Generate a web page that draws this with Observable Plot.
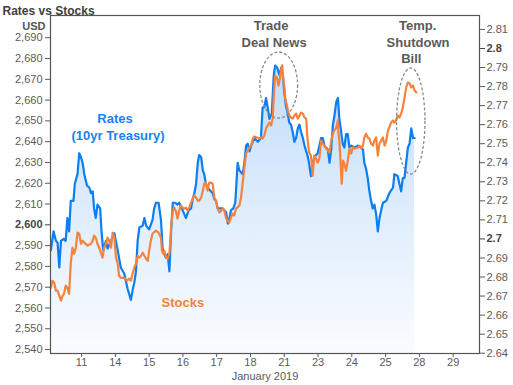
<!DOCTYPE html>
<html><head><meta charset="utf-8">
<script src="https://cdn.jsdelivr.net/npm/d3@7"></script>
<script src="https://cdn.jsdelivr.net/npm/@observablehq/plot@0.6"></script>
<style>body{margin:0;background:#fff;}#chart svg{display:block;}</style>
</head><body><div id="chart"></div>
<script>
// ---- data ----
const dayLabels = ["11","14","15","16","17","18","21","23","24","25","28","29"];
const stockTicks = [2540,2550,2560,2570,2580,2590,2600,2610,2620,2630,2640,2650,2660,2670,2680,2690];
const boldStockTicks = [2600];
const rateTicks = [2.64,2.65,2.66,2.67,2.68,2.69,2.70,2.71,2.72,2.73,2.74,2.75,2.76,2.77,2.78,2.79,2.80,2.81];
const boldRateTicks = [2.70,2.80];

// Rates (10yr Treasury), x = trading-day position (0 = Jan 11)
const rateX = [-0.91,-0.83,-0.76,-0.71,-0.66,-0.61,-0.53,-0.47,-0.42,-0.37,
-0.32,-0.24,-0.20,-0.12,-0.07,-0.02,0.03,0.08,0.16,0.23,
0.28,0.33,0.37,0.42,0.47,0.55,0.59,0.64,0.72,0.77,
0.87,0.97,1.07,1.16,1.26,1.31,1.36,1.41,1.46,1.51,
1.56,1.61,1.66,1.71,1.81,1.86,1.91,2.00,2.10,2.15,
2.20,2.28,2.35,2.40,2.45,2.50,2.55,2.60,2.65,2.70,
2.77,2.84,2.89,2.97,3.04,3.09,3.17,3.24,3.29,3.34,
3.39,3.44,3.48,3.54,3.59,3.63,3.68,3.73,3.78,3.83,
3.88,3.93,3.98,4.03,4.08,4.13,4.18,4.28,4.33,4.37,
4.42,4.49,4.55,4.59,4.62,4.67,4.72,4.77,4.82,4.87,
4.92,4.97,5.02,5.11,5.22,5.31,5.36,5.41,5.46,5.51,
5.56,5.63,5.69,5.73,5.79,5.86,5.91,5.96,6.00,6.05,
6.10,6.15,6.20,6.25,6.30,6.35,6.40,6.45,6.50,6.55,
6.60,6.70,6.74,6.79,6.84,6.89,6.99,7.09,7.14,7.19,
7.29,7.34,7.39,7.44,7.48,7.54,7.59,7.63,7.68,7.73,
7.78,7.83,7.88,7.93,7.98,8.08,8.18,8.28,8.33,8.37,
8.42,8.47,8.52,8.57,8.62,8.67,8.72,8.77,8.82,8.87,
8.92,9.02,9.11,9.22,9.26,9.36,9.41,9.46,9.51,9.56,
9.61,9.66,9.71,9.76,9.81,9.86];
const rateV = [2.694,2.704,2.699,2.698,2.685,2.699,2.700,2.699,2.711,2.704,
2.720,2.720,2.729,2.734,2.745,2.743,2.740,2.734,2.728,2.727,
2.724,2.725,2.716,2.711,2.718,2.716,2.704,2.694,2.699,2.695,
2.699,2.703,2.694,2.685,2.682,2.678,2.674,2.671,2.668,2.673,
2.677,2.683,2.699,2.706,2.707,2.711,2.707,2.705,2.710,2.716,
2.719,2.719,2.710,2.695,2.692,2.690,2.692,2.683,2.704,2.719,
2.719,2.718,2.719,2.716,2.713,2.711,2.715,2.716,2.721,2.724,
2.729,2.740,2.744,2.743,2.736,2.734,2.729,2.727,2.726,2.725,
2.724,2.721,2.720,2.716,2.716,2.716,2.716,2.714,2.708,2.710,
2.715,2.716,2.719,2.731,2.740,2.736,2.735,2.734,2.740,2.749,
2.750,2.746,2.749,2.753,2.751,2.753,2.769,2.769,2.774,2.769,
2.763,2.766,2.786,2.791,2.790,2.786,2.790,2.786,2.777,2.770,
2.766,2.761,2.760,2.756,2.751,2.753,2.758,2.760,2.756,2.753,
2.749,2.743,2.739,2.733,2.740,2.743,2.745,2.753,2.753,2.749,
2.747,2.740,2.747,2.760,2.764,2.772,2.774,2.763,2.757,2.750,
2.748,2.755,2.755,2.748,2.749,2.748,2.749,2.748,2.747,2.740,
2.737,2.732,2.725,2.720,2.716,2.718,2.713,2.704,2.711,2.715,
2.719,2.720,2.724,2.727,2.734,2.733,2.729,2.725,2.732,2.732,
2.740,2.748,2.750,2.758,2.753,2.753];

// Stocks (USD)
const stockX = [-0.91,-0.86,-0.81,-0.76,-0.71,-0.66,-0.61,-0.56,-0.52,-0.47,
-0.42,-0.37,-0.32,-0.27,-0.22,-0.17,-0.12,-0.07,-0.02,0.03,
0.08,0.18,0.28,0.33,0.37,0.42,0.47,0.52,0.57,0.62,
0.67,0.72,0.77,0.82,0.87,0.92,0.97,1.02,1.07,1.11,
1.16,1.26,1.34,1.41,1.46,1.51,1.56,1.61,1.66,1.71,
1.76,1.81,1.86,1.91,1.96,2.00,2.05,2.10,2.20,2.28,
2.35,2.38,2.42,2.45,2.50,2.55,2.60,2.65,2.70,2.74,
2.79,2.84,2.89,2.94,2.99,3.04,3.09,3.14,3.19,3.24,
3.29,3.34,3.39,3.44,3.48,3.54,3.59,3.63,3.68,3.73,
3.78,3.83,3.88,3.93,3.98,4.03,4.08,4.13,4.18,4.23,
4.28,4.33,4.37,4.42,4.47,4.52,4.57,4.67,4.72,4.77,
4.82,4.87,4.92,4.97,5.02,5.07,5.11,5.19,5.26,5.31,
5.36,5.41,5.46,5.51,5.56,5.61,5.66,5.69,5.73,5.79,
5.83,5.87,5.91,5.94,5.96,6.00,6.03,6.08,6.12,6.15,
6.20,6.25,6.30,6.35,6.40,6.45,6.50,6.55,6.60,6.65,
6.68,6.71,6.74,6.79,6.84,6.89,6.94,6.99,7.04,7.09,
7.14,7.19,7.24,7.29,7.34,7.39,7.44,7.48,7.54,7.59,
7.60,7.63,7.66,7.70,7.74,7.78,7.83,7.88,7.93,7.98,
8.03,8.08,8.18,8.23,8.28,8.33,8.37,8.42,8.47,8.52,
8.57,8.62,8.67,8.72,8.77,8.82,8.87,8.92,8.97,9.02,
9.07,9.11,9.16,9.22,9.26,9.31,9.36,9.41,9.46,9.51,
9.56,9.61,9.66,9.71,9.76,9.81,9.86,9.91];
const stockV = [2569.7,2573.1,2572.1,2568.3,2568.3,2565.9,2563.5,2565.9,2566.8,2570.7,
2569.7,2566.8,2581.3,2589.0,2586.1,2589.0,2596.2,2595.7,2590.9,2592.4,
2591.4,2590.0,2590.9,2592.4,2594.8,2593.8,2590.9,2589.0,2586.6,2584.2,
2589.0,2590.9,2593.8,2592.4,2589.0,2596.2,2593.8,2584.2,2581.3,2575.5,
2574.5,2574.5,2573.1,2574.1,2573.1,2576.5,2579.4,2581.3,2585.1,2584.2,
2585.1,2586.6,2585.1,2583.7,2582.7,2587.5,2592.4,2595.7,2597.2,2596.2,
2593.8,2587.5,2586.1,2587.5,2584.2,2583.7,2586.1,2598.6,2606.8,2608.3,
2606.8,2603.0,2606.8,2609.2,2608.3,2607.8,2608.3,2606.8,2608.3,2610.7,
2612.6,2614.0,2613.1,2611.6,2611.6,2613.1,2616.4,2619.8,2620.3,2616.4,
2620.3,2620.3,2619.8,2613.1,2611.6,2607.8,2605.9,2606.8,2607.8,2606.8,
2603.0,2602.0,2601.0,2603.4,2605.4,2604.4,2607.8,2609.2,2613.1,2620.3,
2627.5,2634.3,2635.7,2637.2,2638.1,2641.5,2642.5,2642.0,2641.5,2642.0,
2641.5,2642.9,2646.3,2647.8,2649.2,2647.8,2651.1,2662.2,2671.8,2670.4,
2667.0,2670.4,2675.2,2676.7,2671.8,2667.0,2660.8,2657.4,2654.0,2652.6,
2651.6,2651.1,2652.6,2653.5,2651.1,2652.6,2654.0,2653.5,2651.6,2651.1,
2642.9,2638.1,2634.7,2633.3,2623.7,2633.3,2631.9,2629.9,2631.9,2640.5,
2639.1,2638.1,2636.7,2635.7,2634.7,2640.5,2643.9,2645.3,2646.8,2650.2,
2645.3,2640.5,2632.3,2619.8,2630.9,2629.4,2626.0,2630.9,2636.7,2634.3,
2637.2,2636.7,2637.2,2638.1,2636.7,2638.1,2642.0,2643.9,2642.0,2641.5,
2639.1,2638.1,2640.5,2642.0,2633.3,2639.1,2640.5,2642.0,2638.1,2640.5,
2645.3,2646.8,2649.2,2650.2,2649.2,2650.2,2652.6,2651.6,2653.5,2656.4,
2661.2,2666.1,2668.5,2668.0,2666.1,2667.0,2664.6,2663.7];

// annotation ellipses (center x, center stock value, radii in data units)
const ellX = [5.85, 9.76];
const ellY = [2667.0, 2649.7];
const ellRX = [0.56, 0.42];
const ellRY = [15.9, 25.5];

// ---- scale helpers: map rate axis onto the USD axis ----
const yDomain = [2538.1, 2700.7];
const toS = r => 2690 - ((29 + (2.81 - r) * 1902) - 37.3) / 2.076;
const fromS = s => 2.81 - ((37.3 + (2690 - s) * 2.076) - 29) / 1902;
const fmtRate = s => String(+fromS(s).toFixed(2));

const nR = Math.min(rateX.length, rateV.length);
const rates = d3.range(nR).map(i => ({x: rateX[i], y: toS(rateV[i])}));
const nS = Math.min(stockX.length, stockV.length);
const stocks = d3.range(nS).map(i => ({x: stockX[i], y: stockV[i]}));

const ns = "http://www.w3.org/2000/svg";
function gradientDefs(index, scales, values, dims) {
  const defs = document.createElementNS(ns, "defs");
  const g = document.createElementNS(ns, "linearGradient");
  g.setAttribute("id", "rateGrad");
  g.setAttribute("gradientUnits", "userSpaceOnUse");
  g.setAttribute("x1", 0); g.setAttribute("x2", 0);
  g.setAttribute("y1", dims.marginTop);
  g.setAttribute("y2", dims.height - dims.marginBottom);
  [["0", "#b9d8f8"], ["1", "#fafcff"]].forEach(([o, c]) => {
    const s = document.createElementNS(ns, "stop");
    s.setAttribute("offset", o); s.setAttribute("stop-color", c);
    g.appendChild(s);
  });
  defs.appendChild(g);
  return defs;
}
function ellipses(index, scales) {
  const g = document.createElementNS(ns, "g");
  for (let k = 0; k < ellX.length; k++) {
    const cx = scales.x(ellX[k]), cy = scales.y(ellY[k]);
    const rx = Math.abs(scales.x(ellX[k] + ellRX[k]) - cx);
    const ry = Math.abs(scales.y(ellY[k] + ellRY[k]) - cy);
    const e = document.createElementNS(ns, "ellipse");
    e.setAttribute("cx", cx); e.setAttribute("cy", cy);
    e.setAttribute("rx", rx); e.setAttribute("ry", ry);
    e.setAttribute("fill", "none");
    e.setAttribute("stroke", "#8a8a8a");
    e.setAttribute("stroke-width", 1.3);
    e.setAttribute("stroke-dasharray", "3,2");
    g.appendChild(e);
  }
  return g;
}

const regStock = stockTicks.filter(t => !boldStockTicks.includes(t));
const regRate = rateTicks.filter(t => !boldRateTicks.includes(t));
const dayIdx = dayLabels.map((_, i) => i);
const tickColor = "#5a5a5a";
const font = "'Liberation Sans', Arial, sans-serif";

const chart = Plot.plot({
  width: 513, height: 385,
  marginLeft: 50, marginRight: 34, marginTop: 15, marginBottom: 32,
  style: {fontFamily: font, fontSize: "11px", background: "#fff", color: tickColor},
  x: {domain: [-0.92, 11.78], axis: null},
  y: {domain: yDomain, axis: null},
  marks: [
    gradientDefs,
    Plot.areaY(rates, {x: "x", y1: yDomain[0], y2: "y", fill: "url(#rateGrad)"}),
    Plot.line(rates, {x: "x", y: "y", stroke: "#0a7ef2", strokeWidth: 2.2}),
    Plot.line(stocks, {x: "x", y: "y", stroke: "#f7823c", strokeWidth: 2.2}),
    ellipses,
    Plot.frame({stroke: "#555", strokeWidth: 1.2}),
    Plot.axisY(regStock, {anchor: "left", tickSize: 5, tickPadding: 3, tickFormat: d3.format(","), label: null, color: tickColor, fontSize: 11}),
    Plot.axisY(boldStockTicks, {anchor: "left", tickSize: 5, tickPadding: 3, tickFormat: d3.format(","), label: null, color: "#444", fontWeight: "bold", fontSize: 11}),
    Plot.axisY(regRate.map(toS), {anchor: "right", tickSize: 5, tickPadding: 2, tickFormat: fmtRate, label: null, color: tickColor, fontSize: 11}),
    Plot.axisY(boldRateTicks.map(toS), {anchor: "right", tickSize: 5, tickPadding: 2, tickFormat: fmtRate, label: null, color: "#444", fontWeight: "bold", fontSize: 11}),
    Plot.axisX(dayIdx, {anchor: "bottom", tickSize: 4, tickPadding: 1, tickFormat: i => dayLabels[i], label: null, color: tickColor, fontSize: 11}),
    Plot.text(["Rates vs Stocks"], {frameAnchor: "top-left", dx: -48, dy: -9, textAnchor: "start", fontWeight: "bold", fontSize: 12, fill: "#404040"}),
    Plot.text(["USD"], {frameAnchor: "top-left", dx: -5, dy: 7, textAnchor: "end", fontWeight: "bold", fontSize: 11, fill: "#555"}),
    Plot.text(["January 2019"], {frameAnchor: "bottom", dy: 26, fontSize: 11, fill: tickColor}),
    Plot.text(["Rates"], {x: 0.99, y: 2651.1, fontWeight: "bold", fontSize: 13, fill: "#1a82f2"}),
    Plot.text(["(10yr Treasury)"], {x: 1.08, y: 2642.9, fontWeight: "bold", fontSize: 13, fill: "#1a82f2"}),
    Plot.text(["Stocks"], {x: 3.0, y: 2562.5, fontWeight: "bold", fontSize: 13, fill: "#f7822a"}),
    Plot.text(["Trade"], {x: 5.61, y: 2695.9, fontWeight: "bold", fontSize: 13, fill: "#5a5a5a"}),
    Plot.text(["Deal News"], {x: 5.70, y: 2687.7, fontWeight: "bold", fontSize: 13, fill: "#5a5a5a"}),
    Plot.text(["Temp."], {x: 9.95, y: 2695.9, fontWeight: "bold", fontSize: 13, fill: "#5a5a5a"}),
    Plot.text(["Shutdown"], {x: 9.96, y: 2687.7, fontWeight: "bold", fontSize: 13, fill: "#5a5a5a"}),
    Plot.text(["Bill"], {x: 9.76, y: 2680.0, fontWeight: "bold", fontSize: 13, fill: "#5a5a5a"})
  ]
});
document.getElementById("chart").appendChild(chart);
</script>
</body></html>
